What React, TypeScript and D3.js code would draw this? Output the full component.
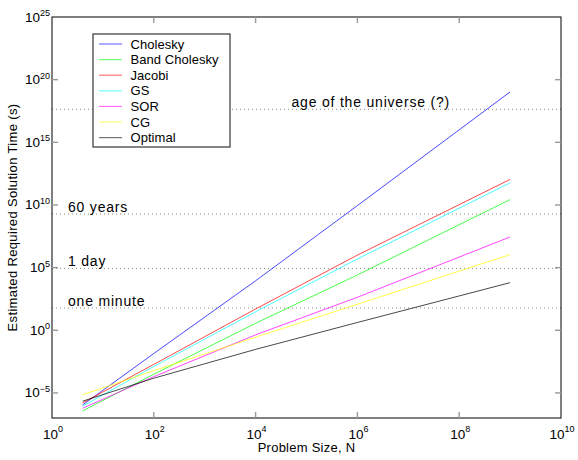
import React, { useEffect } from 'react';
import * as d3 from 'd3';

const sizes = [4, 1e2, 1e4, 1e6, 1e9];

// estimated solution time in seconds, one array per method
const cholesky = [1.1e-6, 1.4e-2, 8.9e3, 8.9e9, 1.05e19];
const bandCholesky = [3.7e-7, 3.1e-4, 3.6, 2.6e4, 2.7e10];
const jacobi = [1.6e-6, 1.9e-3, 50, 1.0e6, 1.1e12];
const gaussSeidel = [8.7e-7, 1.3e-3, 30, 4.9e5, 5.8e11];
const sor = [6.0e-7, 2.0e-4, 0.43, 430, 2.8e7];
const cg = [7.2e-6, 6.0e-4, 0.28, 120, 1.1e6];
const optimal = [2.2e-6, 1.5e-4, 0.03, 4.2, 6.3e3];

const seriesNames = ['Cholesky', 'Band Cholesky', 'Jacobi', 'GS', 'SOR', 'CG', 'Optimal'];
const seriesValues = [cholesky, bandCholesky, jacobi, gaussSeidel, sor, cg, optimal];
const seriesColors = ['#0000ff', '#00ff00', '#ff0000', '#00ffff', '#ff00ff', '#ffff00', '#000000'];

// reference times (s)
const refLabels = ['age of the universe (?)', '60 years', '1 day', 'one minute'];
const refValues = [4.3e17, 1.89e9, 86400, 60];

const xTickExps = [0, 2, 4, 6, 8, 10];
const yTickExps = [-5, 0, 5, 10, 15, 20, 25];

const width = 578;
const height = 460;
const margin = { top: 17, right: 17, bottom: 42, left: 52 };
const font = '"Liberation Sans", Arial, Helvetica, sans-serif';

const sup = (e: number) => (e < 0 ? '\u2212' + Math.abs(e) : String(e));

const App: React.FC = () => {
  useEffect(() => {
    document.body.style.margin = '0';
  }, []);

  const x = d3.scaleLog().domain([1, 1e10]).range([margin.left, width - margin.right]);
  const y = d3.scaleLog().domain([1e-7, 1e25]).range([height - margin.bottom, margin.top]);

  const line = d3.line<[number, number]>()
    .x(d => x(d[0]))
    .y(d => y(d[1]));

  const x0 = margin.left;
  const x1 = width - margin.right;
  const y0 = height - margin.bottom;
  const y1 = margin.top;
  const tickLen = 6;

  return (
    <svg width={width} height={height} style={{ display: 'block', background: '#fff' }} fontFamily={font}>
      {/* reference lines */}
      {refValues.map((v, i) => (
        <line key={'ref' + i} x1={x0} x2={x1} y1={y(v)} y2={y(v)}
          stroke="#888" strokeWidth={1} strokeDasharray="1,3" />
      ))}
      {refLabels.map((t, i) => (
        <text key={'rl' + i} x={i === 0 ? 291.5 : 68} y={y(refValues[i]) - 2.2}
          fontSize={14} letterSpacing={0.8} fill="#000">{t}</text>
      ))}

      {/* series */}
      {seriesValues.map((vals, i) => (
        <path key={seriesNames[i]}
          d={line(sizes.map((n, j) => [n, vals[j]] as [number, number])) || ''}
          fill="none" stroke={seriesColors[i]} strokeWidth={0.9} strokeOpacity={0.8} />
      ))}

      {/* axes box */}
      <rect x={x0} y={y1} width={x1 - x0} height={y0 - y1} fill="none" stroke="#000" strokeWidth={1} />

      {/* ticks */}
      {xTickExps.filter(e => e > 0 && e < 10).map(e => (
        <g key={'xt' + e} stroke="#999" strokeWidth={1.4}>
          <line x1={x(10 ** e)} x2={x(10 ** e)} y1={y0} y2={y0 - tickLen} />
          <line x1={x(10 ** e)} x2={x(10 ** e)} y1={y1} y2={y1 + tickLen} />
        </g>
      ))}
      {yTickExps.filter(e => e > -7 && e < 25).map(e => (
        <g key={'yt' + e} stroke="#999" strokeWidth={1.4}>
          <line x1={x0} x2={x0 + tickLen} y1={y(10 ** e)} y2={y(10 ** e)} />
          <line x1={x1} x2={x1 - tickLen} y1={y(10 ** e)} y2={y(10 ** e)} />
        </g>
      ))}

      {/* tick labels */}
      {xTickExps.map(e => (
        <text key={'xl' + e} x={x(10 ** e) + 1} y={y0 + 21} textAnchor="middle" fontSize={13.5} fill="#000">
          10<tspan fontSize={9} dy={-7}>{sup(e)}</tspan>
        </text>
      ))}
      {yTickExps.map(e => (
        <text key={'yl' + e} x={x0 - 2} y={y(10 ** e) + 4.5} textAnchor="end" fontSize={13.5} fill="#000">
          10<tspan fontSize={9} dy={-5.5}>{sup(e)}</tspan>
        </text>
      ))}

      {/* axis labels */}
      <text x={(x0 + x1) / 2} y={451.5} textAnchor="middle" fontSize={13} letterSpacing={0.25} fill="#000">
        Problem Size, N
      </text>
      <text transform={`translate(16.5,${(y0 + y1) / 2}) rotate(-90)`} textAnchor="middle"
        fontSize={13} letterSpacing={0.35} fill="#000">
        Estimated Required Solution Time (s)
      </text>

      {/* legend */}
      <g>
        <rect x={93} y={34} width={137} height={113} fill="#fff" stroke="#444" strokeWidth={1.3} />
        {seriesNames.map((name, i) => {
          const ly = 44 + i * 15.6;
          return (
            <g key={'lg' + i}>
              <line x1={99} x2={122} y1={ly} y2={ly} stroke={seriesColors[i]} strokeWidth={1.2} strokeOpacity={0.55} />
              <text x={130.5} y={ly + 4.6} fontSize={13} letterSpacing={0.05} fill="#000">{name}</text>
            </g>
          );
        })}
      </g>
    </svg>
  );
};

export default App;
